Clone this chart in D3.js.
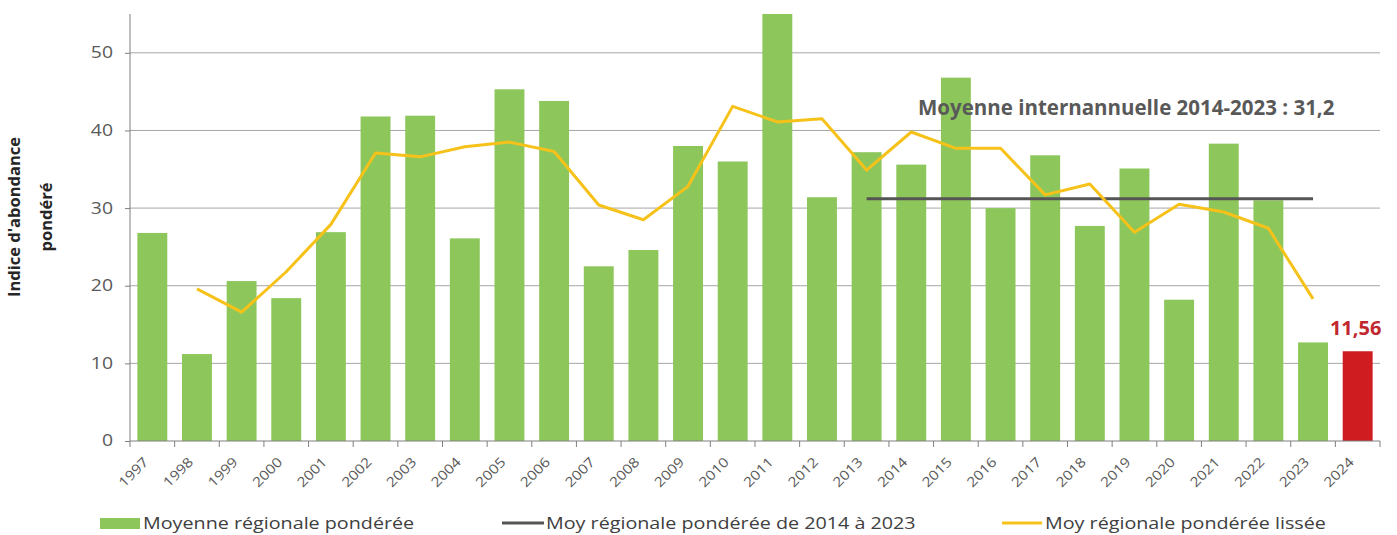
<!DOCTYPE html>
<html lang="fr">
<head>
<meta charset="utf-8">
<style>
  body { margin: 0; background: #fff; }
  svg { display: block; font-family: "Open Sans", sans-serif; }
</style>
</head>
<body>
<script src="https://d3js.org/d3.v7.min.js"></script>
<svg width="1397" height="535"></svg>
<script>
    var years = ["1997", "1998", "1999", "2000", "2001", "2002", "2003", "2004", "2005", "2006",
        "2007", "2008", "2009", "2010", "2011", "2012", "2013", "2014", "2015", "2016",
        "2017", "2018", "2019", "2020", "2021", "2022", "2023", "2024"];
    var moyenne = [26.8, 11.2, 20.6, 18.4, 26.9, 41.8, 41.9, 26.1, 45.3, 43.8,
        22.5, 24.6, 38.0, 36.0, 55.0, 31.4, 37.2, 35.6, 46.8, 30.0,
        36.8, 27.7, 35.1, 18.2, 38.3, 31.0, 12.7, 11.56];
    var lisseYears = years.slice(1, 27);
    var lisse = [19.6, 16.6, 21.8, 27.9, 37.1, 36.6, 37.9, 38.5, 37.3, 30.4,
        28.5, 32.8, 43.1, 41.1, 41.5, 34.9, 39.8, 37.7, 37.7, 31.7,
        33.1, 26.9, 30.5, 29.5, 27.4, 18.3];
    var moyPeriode = 31.2;
    var moyPeriodeYears = ["2013", "2023"];
    var yTicks = [0, 10, 20, 30, 40, 50];

    var svg = d3.select("svg");
    var mLeft = 130, mRight = 1380, mTop = 14, mBottom = 441;

    var x = d3.scaleBand().domain(years).range([mLeft, mRight])
        .paddingInner(0.33).paddingOuter(0.165);
    var y = d3.scaleLinear().domain([0, 55]).range([mBottom, mTop]);

    // grid
    svg.append("g").selectAll("line")
        .data(yTicks.slice(1))
        .enter().append("line")
        .attr("x1", mLeft).attr("x2", mRight)
        .attr("y1", function (d) { return y(d); })
        .attr("y2", function (d) { return y(d); })
        .attr("stroke", "#a6a6a6").attr("stroke-width", 1);

    // y axis
    var yAxis = svg.append("g")
        .attr("transform", "translate(" + mLeft + ",0)")
        .call(d3.axisLeft(y).tickValues(yTicks).tickSize(5));
    yAxis.select(".domain").attr("stroke", "#7f7f7f").attr("d", "M0," + mTop + "V" + mBottom);
    yAxis.selectAll(".tick line").attr("stroke", "#7f7f7f");
    yAxis.selectAll("text")
        .attr("transform", "translate(-17,0) scale(1.25,1)")
        .attr("x", 0)
        .attr("font-size", "15.5px").attr("fill", "#595959")
        .attr("font-family", "Open Sans, sans-serif");

    // bars
    svg.append("g").selectAll("rect")
        .data(years)
        .enter().append("rect")
        .attr("x", function (d) { return x(d); })
        .attr("y", function (d, i) { return y(moyenne[i]); })
        .attr("width", x.bandwidth())
        .attr("height", function (d, i) { return y(0) - y(moyenne[i]); })
        .attr("fill", function (d) { return d === "2024" ? "#cf1c20" : "#8dc75b"; });

    // x axis with ticks between categories
    var step = x.step();
    svg.append("line")
        .attr("x1", mLeft).attr("x2", mRight)
        .attr("y1", mBottom).attr("y2", mBottom)
        .attr("stroke", "#7f7f7f");
    svg.append("g").selectAll("line")
        .data(years.concat(["end"]))
        .enter().append("line")
        .attr("x1", function (d, i) { return mLeft + i * step; })
        .attr("x2", function (d, i) { return mLeft + i * step; })
        .attr("y1", mBottom).attr("y2", mBottom + 6)
        .attr("stroke", "#7f7f7f");
    svg.append("g").selectAll("text")
        .data(years)
        .enter().append("text")
        .attr("transform", function (d) {
            return "translate(" + (x(d) + x.bandwidth() / 2 - 3) + "," + (mBottom + 22) + ") rotate(-45) scale(1.15,1)";
        })
        .attr("text-anchor", "end")
        .attr("font-size", "13.5px")
        .attr("fill", "#595959")
        .text(function (d) { return d; });

    // mean line 2014-2023
    svg.append("line")
        .attr("x1", x(moyPeriodeYears[0]) + x.bandwidth() / 2)
        .attr("x2", x(moyPeriodeYears[1]) + x.bandwidth() / 2)
        .attr("y1", y(moyPeriode)).attr("y2", y(moyPeriode))
        .attr("stroke", "#555555").attr("stroke-width", 3);

    // smoothed line
    var line = d3.line()
        .x(function (d, i) { return x(lisseYears[i]) + x.bandwidth() / 2; })
        .y(function (d) { return y(d); });
    svg.append("path")
        .datum(lisse)
        .attr("d", line)
        .attr("fill", "none")
        .attr("stroke", "#f6c21a")
        .attr("stroke-width", 3)
        .attr("stroke-linejoin", "round");

    // annotations
    svg.append("text")
        .attr("x", 918).attr("y", 115)
        .attr("font-size", "20.5px").attr("font-weight", "bold")
        .attr("fill", "#595959")
        .text("Moyenne internannuelle 2014-2023 : " + String(moyPeriode).replace(".", ","));
    svg.append("text")
        .attr("x", x("2024") + x.bandwidth() / 2 - 2).attr("y", 335)
        .attr("text-anchor", "middle")
        .attr("font-size", "20px").attr("font-weight", "bold")
        .attr("fill", "#c0282d")
        .text(String(moyenne[27]).replace(".", ","));

    // y title
    var yt = svg.append("text")
        .attr("transform", "translate(20,217) rotate(-90)")
        .attr("text-anchor", "middle")
        .attr("font-size", "16.5px").attr("font-weight", "bold")
        .attr("fill", "#262626");
    yt.append("tspan").attr("x", 0).attr("dy", 0).text("Indice d'abondance");
    yt.append("tspan").attr("x", 0).attr("dy", 32).text("pondéré");

    // legend
    var lg = svg.append("g").attr("font-size", "17px").attr("fill", "#404040");
    lg.append("rect").attr("x", 100).attr("y", 518).attr("width", 40).attr("height", 11).attr("fill", "#8dc75b");
    lg.append("text").attr("transform", "translate(143,529) scale(1.16,1)").text("Moyenne régionale pondérée");
    lg.append("line").attr("x1", 502).attr("x2", 544).attr("y1", 523).attr("y2", 523)
        .attr("stroke", "#555555").attr("stroke-width", 3);
    lg.append("text").attr("transform", "translate(546,529) scale(1.16,1)").text("Moy régionale pondérée de 2014 à 2023");
    lg.append("line").attr("x1", 1002).attr("x2", 1042).attr("y1", 523).attr("y2", 523)
        .attr("stroke", "#f6c21a").attr("stroke-width", 3);
    lg.append("text").attr("transform", "translate(1045,529) scale(1.16,1)").text("Moy régionale pondérée lissée");
</script>
</body>
</html>
